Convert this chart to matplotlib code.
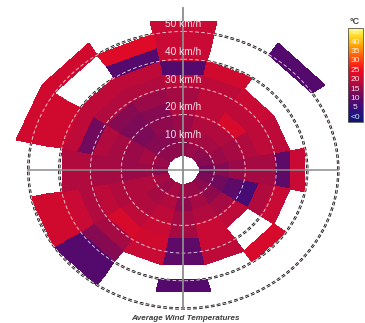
import numpy as np
import matplotlib
matplotlib.use("Agg")
import matplotlib.pyplot as plt
from matplotlib.colors import LinearSegmentedColormap, Normalize
from matplotlib.cm import ScalarMappable

plt.rcParams['font.family'] = ['Liberation Sans', 'DejaVu Sans']
plt.rcParams['lines.scale_dashes'] = False

nan = np.nan
# wind directions (clockwise from North) and speed bins (km/h)
directions = ['N', 'NNE', 'NE', 'ENE', 'E', 'ESE', 'SE', 'SSE',
              'S', 'SSW', 'SW', 'WSW', 'W', 'WNW', 'NW', 'NNW']
speed_edges = [5, 10, 15, 20, 25, 30, 35, 40, 45, 50, 55]

# average temperature (degC) per speed bin for each direction
t_N   = [15, 16, 16, 18, 17, 19, 9, 20, 20, 20]
t_NNE = [16, 17, 18, 19, 19, 19, 21, nan, nan, nan]
t_NE  = [15, 17, 18, 22, 19, 20, nan, nan, nan, 9]
t_ENE = [14, 16, 17, 18, 19, 19, nan, nan, nan, nan]
t_E   = [12, 14, 16, 17, 17, 10, 20, nan, nan, nan]
t_ESE = [13, 12, 10, 7, 18, 20, nan, nan, nan, nan]
t_SE  = [15, 15, 17, 19, nan, nan, 22, nan, nan, nan]
t_SSE = [16, 17, 18, 20, 20, 19, nan, nan, nan, nan]
t_S   = [16, 15, 17, 17, 10, 10, nan, 9, nan, nan]
t_SSW = [17, 18, 19, 20, 21, 20, nan, nan, nan, nan]
t_SW  = [16, 17, 18, 19, 22, 17, 14, 9, 9, nan]
t_WSW = [17, 18, 18, 18, 19, 18, 20, 21, 21, nan]
t_W   = [15, 16, 16, 17, 17, 18, 18, nan, nan, nan]
t_WNW = [16, 17, 16, 17, 18, 12, 19, 21, 21, 21]
t_NW  = [15, 14, 13, 13, 14, 18, 19, nan, nan, 21]
t_NNW = [15, 14, 15, 14, 16, 18, 19, 9, 23, nan]

grid_speeds = [10, 20, 30, 40, 50]
cbar_values = [0, 5, 10, 15, 20, 25, 30, 35, 40, 45]
cbar_labels = ['<0', '5', '10', '15', '20', '25', '30', '35', '40', '45']

temps = np.array([t_N, t_NNE, t_NE, t_ENE, t_E, t_ESE, t_SE, t_SSE,
                  t_S, t_SSW, t_SW, t_WSW, t_W, t_WNW, t_NW, t_NNW], dtype=float)

# colour scale
anchor_vals = [-2.5, 0, 5, 10, 15, 20, 25, 30, 35, 40, 45, 47.5]
anchor_cols = ['#0c1470', '#16167e', '#3a0c7c', '#5c0a68', '#900a4c', '#c80a34',
               '#ee0a1e', '#ff3a10', '#ff7a08', '#ffb808', '#ffe840', '#ffff90']
vmin, vmax = -2.5, 47.5
cmap = LinearSegmentedColormap.from_list(
    'temp', [((v - vmin) / (vmax - vmin), c) for v, c in zip(anchor_vals, anchor_cols)])
norm = Normalize(vmin, vmax)

W, H = 365, 323
fig = plt.figure(figsize=(W / 100, H / 100), dpi=100)

cx, cy, sx, sy, R = 183.3, 170.0, 3.1, 2.77, 56
ax = fig.add_axes([(cx - R * sx) / W, (H - cy - R * sy) / H,
                   2 * R * sx / W, 2 * R * sy / H], projection='polar')
ax.set_theta_zero_location('N')
ax.set_theta_direction(-1)
ax.set_ylim(0, R)
ax.set_aspect('auto')
ax.patch.set_alpha(0)
ax.spines['polar'].set_visible(False)
ax.grid(False)
ax.set_xticks([])
ax.set_yticks([])

n = len(directions)
theta_edges = np.deg2rad(np.arange(n + 1) * 360.0 / n - 180.0 / n)
ax.pcolormesh(theta_edges, np.array(speed_edges, dtype=float),
              np.ma.masked_invalid(temps.T), cmap=cmap, norm=norm,
              shading='flat', zorder=1)

# dashed speed circles: dark underlay + white dashes on top
th = np.linspace(0, 2 * np.pi, 900)
dash = (0, (2.6, 1.7))
for k in grid_speeds:
    ax.plot(th, np.full_like(th, k), color='#000000', lw=1.7, ls=dash,
            zorder=0.5, dash_capstyle='butt')
    ax.plot(th, np.full_like(th, k), color='#f6e8f0', lw=0.6, ls=dash,
            zorder=3, alpha=0.95, dash_capstyle='butt')
    ax.text(0, k + 2.6, f'{k} km/h', color='#f2e4ea', fontsize=7.3,
            ha='center', va='center', zorder=6)

# axis cross
axis_col = '#8c8c8c'
ax.plot([0, 0], [0, 58.5], color=axis_col, lw=1.3, zorder=5, clip_on=False)
ax.plot([np.pi, np.pi], [0, 50], color=axis_col, lw=1.3, zorder=5, clip_on=False)
ax.plot([np.pi / 2, np.pi / 2], [0, 50], color=axis_col, lw=1.1, zorder=5, clip_on=False)
ax.plot([3 * np.pi / 2, 3 * np.pi / 2], [0, 50], color=axis_col, lw=1.1, zorder=5, clip_on=False)

fig.text(185 / W, 1 - 318 / H, 'Average Wind Temperatures', fontsize=5.8,
         style='italic', weight='bold', color='#3a3a3a', ha='center', va='center')

# colour bar
cax = fig.add_axes([348 / W, (H - 122) / H, 15 / W, 94 / H])
cb = fig.colorbar(ScalarMappable(norm=norm, cmap=cmap), cax=cax)
cb.set_ticks([])
cb.outline.set_edgecolor('#555555')
cb.outline.set_linewidth(0.6)
for v, lab in zip(cbar_values, cbar_labels):
    cax.text(0.5, v, lab, transform=cax.get_yaxis_transform(), ha='center',
             va='center', fontsize=6, color='white',
             alpha=0.55 if v >= 45 else 0.9)
fig.text(355 / W, 1 - 21 / H, '°C', fontsize=6.5, weight='bold', color='#444444',
         ha='center', va='center')

fig.savefig('out.png', dpi=100)
